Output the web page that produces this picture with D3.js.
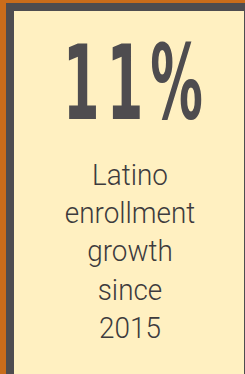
<!DOCTYPE html>
<html>
<head>
<meta charset="utf-8">
<script src="https://cdn.jsdelivr.net/npm/d3@7"></script>
<style>
  html, body { margin: 0; padding: 0; background: #fff; }
  svg { display: block; }
</style>
</head>
<body>
<svg id="card"></svg>
<script>
// stat value and caption lines
const statValue = ["11%"];
const captionLines = ["Latino", "enrollment", "growth", "since", "2015"];

const W = 245, H = 374;
const svg = d3.select("#card").attr("width", W).attr("height", H);

// frame: orange outer edge, dark grey inner band, cream panel
svg.append("rect").attr("x", 0).attr("y", 0).attr("width", W).attr("height", H).attr("fill", "#c96c1b");
svg.append("rect").attr("x", 6).attr("y", 3).attr("width", W - 6).attr("height", H - 3).attr("fill", "#4e4c4f");
svg.append("rect").attr("x", 14).attr("y", 11).attr("width", W - 15).attr("height", H - 11).attr("fill", "#fff0c1");

const cx = 130;

// big number, squeezed horizontally to the width it has in the poster
const big = svg.append("g");
const bigText = big.selectAll("text")
  .data(statValue)
  .join("text")
  .attr("x", 0)
  .attr("y", 0)
  .attr("font-family", "DejaVu Sans")
  .attr("font-weight", "bold")
  .attr("font-size", 104)
  .attr("letter-spacing", 14)
  .attr("fill", "#4e4c4f")
  .text(d => d);
const len = bigText.node().getComputedTextLength() - 14;
const sx = 140 / len;
big.attr("transform", `translate(63,119) scale(${sx},1)`);

// caption lines, a touch narrower than plain Roboto
const y = d3.scalePoint().domain(captionLines).range([185, 338]);
svg.append("g")
  .attr("transform", `translate(${cx},0) scale(0.93,1)`)
  .selectAll("text")
  .data(captionLines)
  .join("text")
  .attr("x", 0)
  .attr("y", d => y(d))
  .attr("text-anchor", "middle")
  .attr("font-family", "Roboto")
  .attr("font-weight", 300)
  .attr("font-size", 30)
  .attr("fill", "#3d3b3d")
  .text(d => d);
</script>
</body>
</html>
